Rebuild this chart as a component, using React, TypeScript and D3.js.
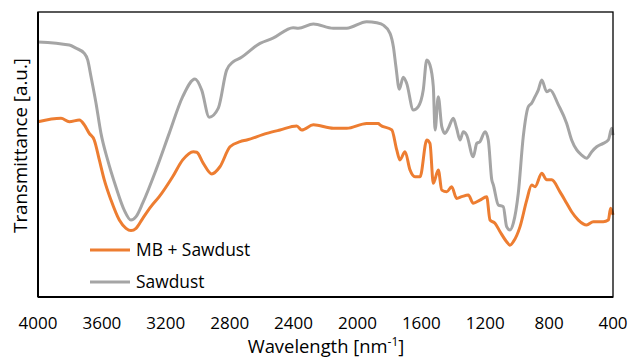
import React from "react";
import * as d3 from "d3";

const xTicks = [4000, 3600, 3200, 2800, 2400, 2000, 1600, 1200, 800, 400];
const seriesNames = ["MB + Sawdust", "Sawdust"];

const sawdustWn = [4000, 3804, 3762, 3710, 3689, 3668, 3637, 3606, 3564, 3512, 3460, 3418, 3386, 3344, 3261, 3178, 3094, 3017, 2975, 2928, 2871, 2819, 2777, 2735, 2610, 2529, 2403, 2370, 2276, 2151, 2067, 1942, 1879, 1838, 1796, 1775, 1759, 1738, 1713, 1692, 1650, 1619, 1588, 1566, 1546, 1525, 1514, 1494, 1472, 1452, 1431, 1400, 1379, 1358, 1337, 1316, 1275, 1253, 1233, 1201, 1181, 1159, 1149, 1118, 1087, 1066, 1045, 1024, 993, 962, 930, 909, 888, 868, 846, 815, 794, 742, 690, 659, 627, 596, 565, 533, 502, 461, 429, 408, 400];
const sawdustT = [89.5, 88.4, 87.3, 85.5, 83.2, 77.3, 68.1, 57.5, 48.1, 38.6, 30.5, 27.0, 28.2, 33.0, 44.6, 57.5, 70.3, 76.5, 72.6, 63.1, 66.3, 79.6, 82.6, 83.8, 89.0, 90.8, 94.5, 94.3, 95.8, 94.3, 94.3, 96.6, 96.2, 95.4, 92.5, 87.8, 80.8, 72.9, 77.1, 75.0, 65.6, 66.8, 72.6, 83.2, 81.4, 73.8, 58.6, 70.3, 59.8, 57.4, 59.2, 62.7, 59.2, 55.1, 58.0, 56.8, 49.2, 53.9, 54.5, 58.0, 55.1, 41.1, 39.3, 32.3, 31.7, 24.7, 23.5, 25.9, 36.4, 56.2, 66.8, 68.0, 70.3, 72.6, 76.1, 72.0, 72.6, 67.4, 60.9, 55.1, 51.6, 49.8, 48.7, 51.0, 52.7, 53.9, 55.1, 59.2, 56.8];

const mbWn = [4000, 3856, 3804, 3741, 3710, 3679, 3648, 3616, 3585, 3543, 3491, 3449, 3418, 3386, 3344, 3293, 3241, 3157, 3094, 3028, 3006, 2965, 2912, 2861, 2798, 2735, 2693, 2568, 2485, 2380, 2349, 2276, 2151, 2067, 1942, 1869, 1859, 1785, 1754, 1734, 1702, 1671, 1640, 1608, 1566, 1546, 1525, 1494, 1472, 1441, 1410, 1379, 1347, 1306, 1275, 1233, 1191, 1170, 1139, 1107, 1066, 1045, 1024, 982, 940, 909, 888, 846, 815, 784, 732, 690, 659, 617, 565, 523, 461, 429, 415, 400];
const mbT = [61.5, 62.7, 61.5, 62.1, 60.4, 57.4, 55.1, 48.1, 41.1, 34.0, 27.0, 24.1, 23.3, 24.1, 27.6, 31.7, 35.2, 42.2, 48.1, 51.0, 50.8, 46.9, 43.2, 45.7, 52.7, 54.5, 55.1, 57.4, 58.6, 60.0, 58.6, 60.4, 59.2, 59.2, 60.9, 60.9, 60.4, 58.6, 51.6, 48.1, 51.0, 44.6, 42.2, 42.2, 55.1, 53.9, 39.9, 44.6, 37.5, 36.9, 38.7, 34.6, 35.2, 35.8, 32.9, 34.0, 35.2, 27.0, 25.9, 22.9, 19.4, 18.2, 19.4, 24.7, 34.0, 39.3, 38.7, 43.4, 41.1, 41.1, 36.9, 32.9, 29.9, 27.0, 25.3, 26.4, 26.4, 27.0, 31.1, 28.8];

const colors = ["#ED7D31", "#A5A5A5"];

export default function App() {
  const W = 630, H = 359;
  const left = 38, right = 613, top = 12, bottom = 297;
  const x = d3.scaleLinear().domain([4000, 400]).range([left, right]);
  const y = d3.scaleLinear().domain([0, 100]).range([bottom, top]);
  const gen = d3
    .line<[number, number]>()
    .x((d) => x(d[0]))
    .y((d) => y(d[1]))
    .curve(d3.curveMonotoneX);
  const sawdust = sawdustWn.map((w, i) => [w, sawdustT[i]] as [number, number]);
  const mb = mbWn.map((w, i) => [w, mbT[i]] as [number, number]);
  const font = "'Open Sans', sans-serif";
  return (
    <svg width={W} height={H} style={{ position: "absolute", left: 0, top: 0, background: "#fff" }}>
      <rect x={0} y={0} width={W} height={H} fill="#fff" />
      <path d={gen(sawdust) || ""} fill="none" stroke={colors[1]} strokeWidth={3} strokeLinejoin="round" />
      <path d={gen(mb) || ""} fill="none" stroke={colors[0]} strokeWidth={3} strokeLinejoin="round" />
      <rect x={left} y={top} width={right - left} height={bottom - top} fill="none" stroke="#000" strokeWidth={1.3} />
      <line x1={left} x2={left} y1={top} y2={bottom} stroke="#000" strokeWidth={2} />
      <line x1={left} x2={right} y1={bottom} y2={bottom} stroke="#000" strokeWidth={2} />
      {xTicks.map((t) => (
        <text key={t} x={x(t)} y={329} textAnchor="middle" fontFamily={font} fontSize={17} fill="#000">
          {t}
        </text>
      ))}
      <text x={326} y={352.5} textAnchor="middle" fontFamily={font} fontSize={18.4} fill="#000">
        Wavelength [nm<tspan dy={-7} fontSize={12}>-1</tspan><tspan dy={7}>]</tspan>
      </text>
      <text
        transform={`translate(27,145.5) rotate(-90)`}
        textAnchor="middle"
        fontFamily={font}
        fontSize={18.8}
        fill="#000"
      >
        Transmittance [a.u.]
      </text>
      {seriesNames.map((name, i) => (
        <g key={name}>
          <line x1={90} x2={130} y1={250 + i * 32} y2={250 + i * 32} stroke={colors[i]} strokeWidth={3} />
          <text x={136} y={256 + i * 32} fontFamily={font} fontSize={17.4} fill="#000">
            {name}
          </text>
        </g>
      ))}
    </svg>
  );
}
